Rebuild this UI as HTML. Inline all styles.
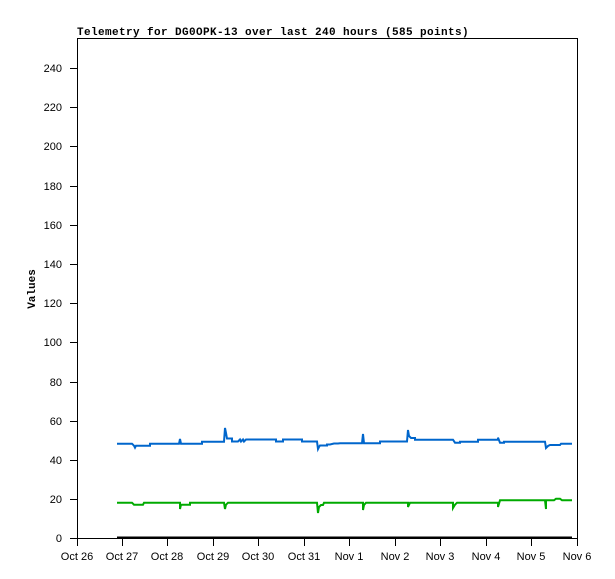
<!DOCTYPE html>
<html><head><meta charset="utf-8"><style>
html,body{margin:0;padding:0;background:#fff;}
svg{display:block;}
.t{font-family:"Liberation Sans",sans-serif;font-size:11px;fill:#000;}
.m{font-family:"Liberation Mono",monospace;font-size:11px;font-weight:bold;fill:#000;}
</style></head><body>
<svg width="615" height="579" viewBox="0 0 615 579" xmlns="http://www.w3.org/2000/svg">
<rect width="615" height="579" fill="#fff"/>
<text class="m" x="77" y="35" letter-spacing="0.4">Telemetry for DG0OPK-13 over last 240 hours (585 points)</text>
<text class="m" transform="translate(35,289) rotate(-90)" text-anchor="middle">Values</text>
<g stroke="#000" stroke-width="1" fill="none" shape-rendering="crispEdges">
<line x1="77.5" y1="38" x2="77.5" y2="538"/>
<line x1="77" y1="38.5" x2="578" y2="38.5"/>
<line x1="577.5" y1="38" x2="577.5" y2="538"/>
<line x1="77" y1="538.5" x2="578" y2="538.5"/>
</g>
<g stroke="#000" stroke-width="1" shape-rendering="crispEdges">
<line x1="70" y1="538.5" x2="77" y2="538.5"/><line x1="70" y1="499.5" x2="77" y2="499.5"/>
<line x1="70" y1="460.5" x2="77" y2="460.5"/><line x1="70" y1="421.5" x2="77" y2="421.5"/>
<line x1="70" y1="382.5" x2="77" y2="382.5"/><line x1="70" y1="342.5" x2="77" y2="342.5"/>
<line x1="70" y1="303.5" x2="77" y2="303.5"/><line x1="70" y1="264.5" x2="77" y2="264.5"/>
<line x1="70" y1="225.5" x2="77" y2="225.5"/><line x1="70" y1="186.5" x2="77" y2="186.5"/>
<line x1="70" y1="146.5" x2="77" y2="146.5"/><line x1="70" y1="107.5" x2="77" y2="107.5"/>
<line x1="70" y1="68.5" x2="77" y2="68.5"/>
<line x1="77.5" y1="538" x2="77.5" y2="546"/><line x1="122.5" y1="538" x2="122.5" y2="546"/>
<line x1="167.5" y1="538" x2="167.5" y2="546"/><line x1="213.5" y1="538" x2="213.5" y2="546"/>
<line x1="258.5" y1="538" x2="258.5" y2="546"/><line x1="304.5" y1="538" x2="304.5" y2="546"/>
<line x1="349.5" y1="538" x2="349.5" y2="546"/><line x1="395.5" y1="538" x2="395.5" y2="546"/>
<line x1="440.5" y1="538" x2="440.5" y2="546"/><line x1="486.5" y1="538" x2="486.5" y2="546"/>
<line x1="531.5" y1="538" x2="531.5" y2="546"/><line x1="577.5" y1="538" x2="577.5" y2="546"/>
</g>
<g class="t" text-anchor="end">
<text x="62" y="542">0</text><text x="62" y="503">20</text><text x="62" y="464">40</text>
<text x="62" y="425">60</text><text x="62" y="386">80</text><text x="62" y="346">100</text>
<text x="62" y="307">120</text><text x="62" y="268">140</text><text x="62" y="229">160</text>
<text x="62" y="190">180</text><text x="62" y="150">200</text><text x="62" y="111">220</text>
<text x="62" y="72">240</text>
</g>
<g class="t" text-anchor="middle">
<text x="77" y="560">Oct 26</text><text x="122" y="560">Oct 27</text><text x="167" y="560">Oct 28</text>
<text x="213" y="560">Oct 29</text><text x="258" y="560">Oct 30</text><text x="304" y="560">Oct 31</text>
<text x="349" y="560">Nov 1</text><text x="395" y="560">Nov 2</text><text x="440" y="560">Nov 3</text>
<text x="486" y="560">Nov 4</text><text x="531" y="560">Nov 5</text><text x="577" y="560">Nov 6</text>
</g>
<line x1="117" y1="537.5" x2="572" y2="537.5" stroke="#000" stroke-width="2"/>
<polyline fill="none" stroke="#0066cc" stroke-width="2" points="117,443.7 132,443.7 134,445.7 135,447.7 136,445.7 150,445.7 150,443.7 179,443.7 180,439 181,443.7 202,443.7 202,441.7 224,441.7 225,428 226,433 227,438.5 232,438.5 232,441.5 238,441.5 240,439.5 241,441.5 243,439.5 244,441.5 246,439.5 276,439.5 276,441.5 283,441.5 283,439.5 302,439.5 302,441.5 317,441.5 318,449 319,447 320,445.5 327,445.5 327,444.5 330,444.5 334,443.5 338,443.5 340,443.2 362,443.2 363,434 364,443.2 380,443.2 380,441.5 407,441.5 408,430 409,436 411,438 415,438 415,439.7 453,439.7 455,442.7 460,442.7 460,441.7 478,441.7 478,439.7 498,439.7 498,437.6 500,442.7 504,442.7 504,441.7 545,441.7 546,448 548,446 550,445 560,445 561,443.7 572,443.7"/>
<polyline fill="none" stroke="#00aa00" stroke-width="2" points="117,502.7 132,502.7 134,504.7 143,504.7 144,502.7 180,502.7 180,509 181,504.7 190,504.7 190,502.7 224,502.7 225,509 226,504.7 228,502.7 317,502.7 318,513 319,507 321,505 323,505 324,502.7 363,502.7 363,510 364,505 366,502.7 408,502.7 408,507 410,502.7 453,502.7 453,508 455,504.7 457,502.7 498,502.7 498,507 500,500.3 545,500.3 546,509 546,500.3 554,500.3 556,498.7 560,498.7 562,500.3 572,500.3"/>
</svg>
</body></html>
